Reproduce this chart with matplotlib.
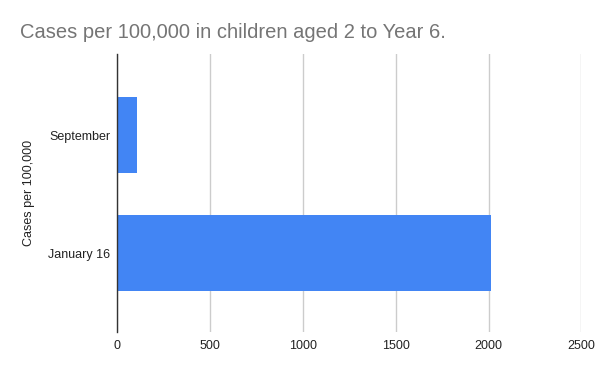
import matplotlib
matplotlib.use("Agg")
import matplotlib.pyplot as plt

categories = ["January 16", "September"]
values = [2011, 108]
x_ticks = [0, 500, 1000, 1500, 2000, 2500]
title = "Cases per 100,000 in children aged 2 to Year 6."
ylabel = "Cases per 100,000"

plt.rcParams['font.family'] = ['Liberation Sans', 'DejaVu Sans']

fig = plt.figure(figsize=(6, 3.71), dpi=100)
ax = fig.add_axes([0.1955, 0.105, 0.7735, 0.749])

ypos = list(range(len(categories)))
ax.barh(ypos, values, height=0.65, color="#4285F4", zorder=3)
ax.set_yticks(ypos)
ax.set_yticklabels(categories, fontsize=9, color="#222222")
ax.set_ylim(-0.67, 1.686)
ax.set_xlim(0, 2500)
ax.set_xticks(x_ticks)
ax.set_xticklabels([str(t) for t in x_ticks], fontsize=9, color="#222222")
ax.tick_params(axis='both', length=0)
ax.tick_params(axis='x', pad=6)
ax.tick_params(axis='y', pad=5)
ax.grid(axis='x', color="#cccccc", linewidth=1, zorder=0)
for s in ['top', 'right', 'bottom']:
    ax.spines[s].set_visible(False)
ax.spines['left'].set_color("#333333")
ax.spines['left'].set_linewidth(1)
ax.spines['left'].set_zorder(4)

ax.set_ylabel(ylabel, fontsize=9, color="#222222")
ax.yaxis.set_label_coords(-0.178, 0.5)

fig.text(20/600, 1 - 32/371, title, fontsize=14.5, color="#757575", va='center', ha='left')

fig.savefig("out.png", dpi=100)
